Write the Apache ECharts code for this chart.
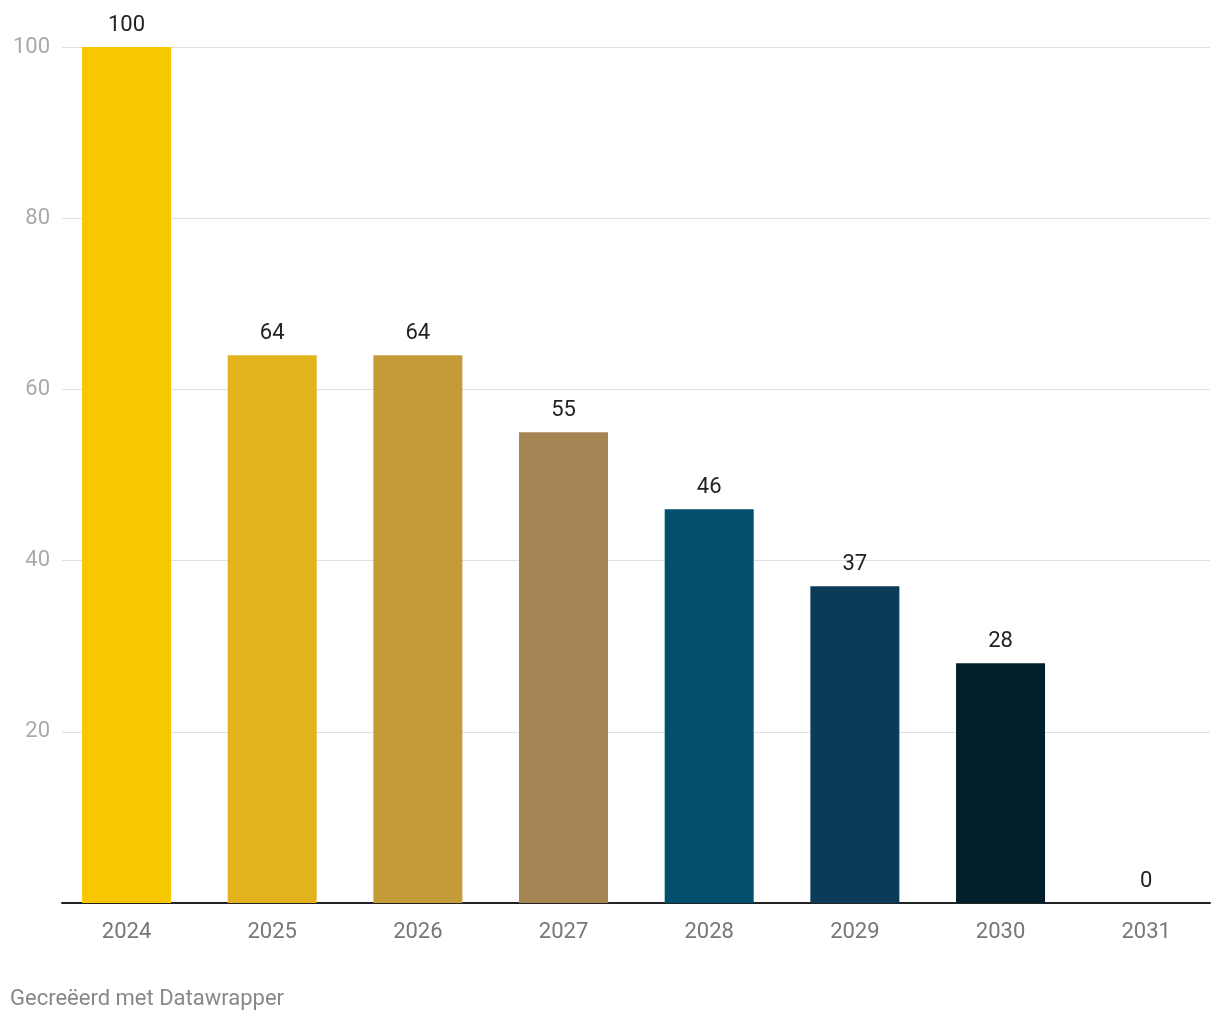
<!DOCTYPE html>
<html>
<head>
<meta charset="utf-8">
<script src="https://cdn.jsdelivr.net/npm/echarts@6/dist/echarts.min.js"></script>
<style>
html,body{margin:0;padding:0;background:#fff;}
#chart{width:1220px;height:1020px;}
</style>
</head>
<body>
<div id="chart"></div>
<script>
const years = ['2024','2025','2026','2027','2028','2029','2030','2031'];
const values = [100, 64, 64, 55, 46, 37, 28, 0];
const colors = ['#f7c800','#e2b31c','#c49b36','#a38452','#02506d','#0c3a59','#02202b','#02202b'];
const yTicks = [0, 20, 40, 60, 80, 100];

const chart = echarts.init(document.getElementById('chart'));
const font = 'Roboto, "Noto Sans", sans-serif';
chart.setOption({
  animation: false,
  backgroundColor: '#fff',
  grid: { left: 62, right: 10, top: 47, bottom: 117, containLabel: false },
  xAxis: {
    type: 'value',
    min: -0.443,
    max: 7.438,
    axisLine: { show: true, onZero: false, lineStyle: { color: '#222', width: 2 } },
    axisTick: { show: false },
    splitLine: { show: false },
    axisLabel: {
      customValues: years.map((y, i) => i),
      formatter: v => years[Math.round(v)] || '',
      color: '#777',
      fontFamily: font,
      fontSize: 22,
      margin: 18
    }
  },
  yAxis: {
    type: 'value',
    min: 0,
    max: 100,
    interval: 20,
    axisLine: { show: false },
    axisTick: { show: false },
    splitLine: { show: true, lineStyle: { color: '#e0e0e0', width: 1 } },
    axisLabel: {
      formatter: v => v === 0 ? '' : String(v),
      color: '#aaa',
      fontFamily: font,
      fontSize: 22,
      margin: 12,
      padding: [3, 0, 0, 0]
    }
  },
  series: [{
    type: 'bar',
    barWidth: 89,
    data: values.map((v, i) => ({ value: [i, v], itemStyle: { color: colors[i] } })),
    label: {
      show: true,
      position: 'top',
      distance: 11,
      formatter: p => String(p.value[1]),
      color: '#222',
      fontFamily: font,
      fontSize: 22
    }
  }],
  graphic: [{
    type: 'text',
    left: 10,
    top: 988,
    style: { text: 'Gecreëerd met Datawrapper', fill: '#888', font: '22px ' + font }
  }]
});
</script>
</body>
</html>
